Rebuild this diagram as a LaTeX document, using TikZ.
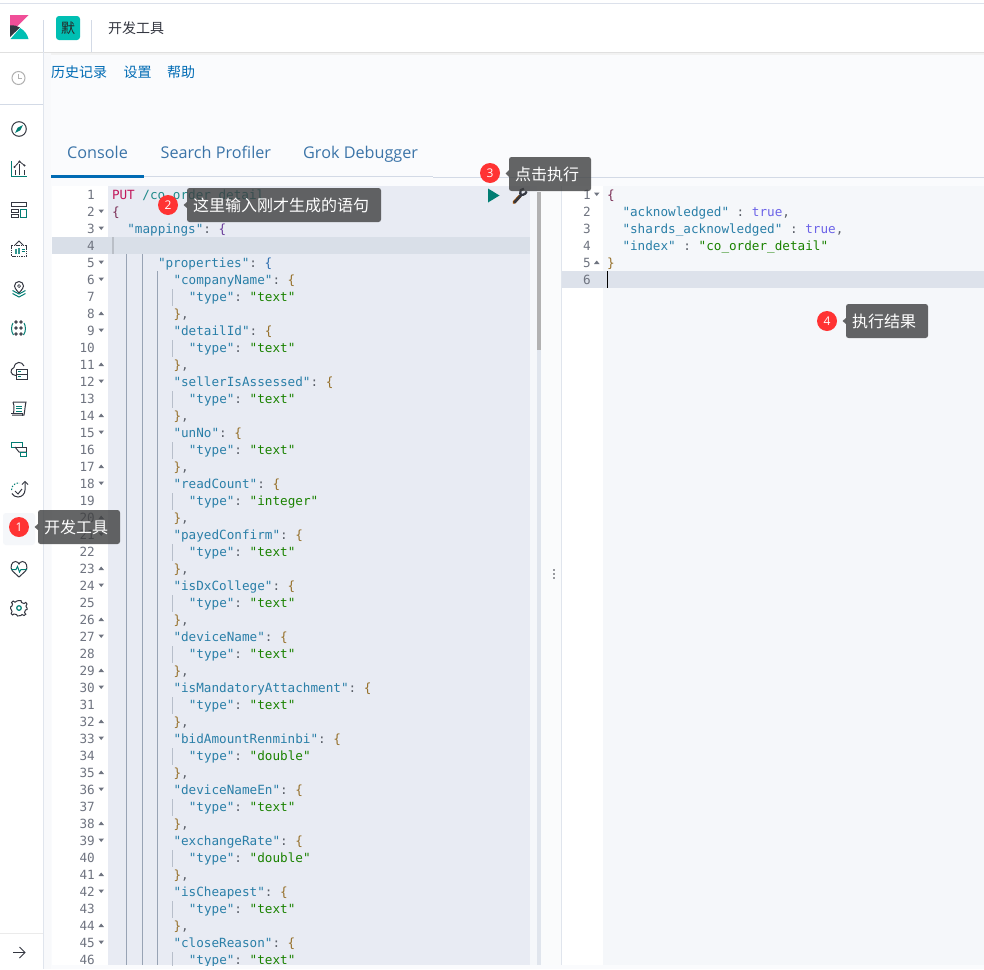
\documentclass[tikz,border=0pt]{standalone}
\usepackage{fontspec}
\setmainfont{Open Sans}
\newfontfamily\cjkfont{Noto Sans CJK SC}
\newfontfamily\codefont{DejaVu Sans Mono}
\frenchspacing
\definecolor{pagebg}{HTML}{FAFBFD}
\definecolor{edbg}{HTML}{E8EBF3}
\definecolor{edhl}{HTML}{D9DFE8}
\definecolor{rightbg}{HTML}{F5F7FA}
\definecolor{righthl}{HTML}{DDE2EB}
\definecolor{bordercol}{HTML}{D3DAE6}
\definecolor{ink}{HTML}{343741}
\definecolor{tealink}{HTML}{017D73}
\definecolor{linkblue}{HTML}{006BB4}
\definecolor{tabblue}{HTML}{3B74A8}
\definecolor{keycol}{HTML}{2A7FA8}
\definecolor{valcol}{HTML}{1A8200}
\definecolor{punct}{HTML}{5A5F68}
\definecolor{bracea}{HTML}{96702A}
\definecolor{braceb}{HTML}{7A2E55}
\definecolor{bracec}{HTML}{6A3D9A}
\definecolor{braced}{HTML}{2F6FB0}
\definecolor{gutnum}{HTML}{6F7480}
\definecolor{guide}{HTML}{98A3B4}
\definecolor{boolcol}{HTML}{6C63E8}
\definecolor{tipbg}{HTML}{3E3F40}
\definecolor{badgered}{HTML}{FF3333}
\definecolor{kpink}{HTML}{F04E98}
\definecolor{kteal}{HTML}{00BFB3}
\definecolor{putcol}{HTML}{C2185B}
\definecolor{pathcol}{HTML}{1F8A8A}
\newcommand{\K}[1]{\textcolor{keycol}{"#1"}}
\newcommand{\V}[1]{\textcolor{valcol}{"#1"}}
\newcommand{\Pn}[1]{\textcolor{punct}{#1}}
\newcommand{\Br}[2]{\textcolor{#1}{#2}}
\tikzset{
  x=1pt,y=-1pt,
  code/.style={font=\codefont\fontsize{12.65}{15}\selectfont,anchor=base west,inner sep=0pt,outer sep=0pt},
  gnum/.style={font=\codefont\fontsize{12.65}{15}\selectfont,anchor=base east,inner sep=0pt,text=gutnum},
  menu/.style={font=\cjkfont\fontsize{14}{16}\selectfont,anchor=base west,inner sep=0pt},
  tabtxt/.style={font=\fontsize{16.2}{18}\selectfont,anchor=base west,inner sep=0pt},
  tipbox/.style={fill=tipbg,rounded corners=2.5pt,fill opacity=.8,draw=none},
  tiptext/.style={font=\cjkfont\fontsize{16}{18}\selectfont,text=white,anchor=base west,inner sep=0pt},
  redbadge/.style={circle,fill=badgered,minimum size=20pt,inner sep=0pt,text=white,font=\fontsize{12}{14}\selectfont},
  ic/.style={draw=ink,line width=1pt,fill=none},
  ict/.style={draw=tealink,line width=1pt,fill=none},
  foldmark/.style={fill=gutnum,draw=none},
}
\begin{document}
\begin{tikzpicture}
\useasboundingbox (0,0) rectangle (984,969);
\fill[white] (0,0) rectangle (984,969);
% page
\fill[pagebg] (44,53) rectangle (984,969);
% top bar
\draw[bordercol!80!white,line width=1pt] (0,3.5) -- (984,3.5);
\fill[black!12] (0,52) rectangle (984,53);
\fill[black!5] (44,53) rectangle (984,55);
\draw[bordercol] (43.5,20) -- (43.5,52);
\draw[bordercol] (91.5,20) -- (91.5,52);
% sidebar
\draw[bordercol!70!white] (43.5,52) -- (43.5,969);
\draw[bordercol] (0,104.5) -- (43,104.5);
\draw[black!8] (0,933) -- (43,933);
\fill[rightbg!70!white] (44,53) rectangle (51,969);
% logo
\fill[kpink] (10,15) -- (28.5,15) -- (10,33.5) -- cycle;
\fill[ink] (10,25.5) .. controls (14,25) and (17,25.8) .. (20,27.5) -- (10,37) -- cycle;
\fill[kteal] (10.5,39) -- (20.2,28) .. controls (24.5,30.5) and (27.5,34.5) .. (28.5,39) -- cycle;
% space badge
\fill[kteal,rounded corners=3pt] (56,16) rectangle (80,40);
\node[font=\cjkfont\fontsize{14}{15}\selectfont,text=black!85,inner sep=0pt] (spacebadge) at (68,28) {默};
\node[font=\cjkfont\fontsize{14}{16}\selectfont,text=ink,anchor=base west,inner sep=0pt] (apptitle) at (108,33) {开发工具};
% sub menu
\node[menu,text=linkblue] (m1) at (51,77) {历史记录};
\node[menu,text=linkblue] (m2) at (123.5,77) {设置};
\node[menu,text=linkblue] (m3) at (167,77) {帮助};
% tabs
\node[tabtxt,text=tabblue] (tab1) at (67,158) {Console};
\node[tabtxt,text=tabblue] (tab2) at (160.5,158) {Search Profiler};
\node[tabtxt,text=tabblue] (tab3) at (303,158) {Grok Debugger};
\draw[bordercol,line width=1.5pt] (144,176.5) -- (433,176.5);
\draw[bordercol,line width=.8pt] (433,177.8) -- (984,177.8);
\fill[linkblue] (51,175) rectangle (144,177.5);
% editor backgrounds
\fill[white] (52,186) rectangle (108,965);
\fill[edbg] (108,186) rectangle (530,965);
\fill[edhl] (108,237) rectangle (530,254);
\fill[bordercol!70!gray] (112,237) rectangle (114,254);
\fill[edhl] (52,237) rectangle (108,254);
% right pane
\fill[rightbg] (530,186) rectangle (537,965);
\fill[rightbg!50!white] (541,186) rectangle (561,965);
\fill[black!30] (537,192) rectangle (541,350);
\fill[bordercol!70!white] (537,350) rectangle (541,965);
\fill[white] (562,186) rectangle (603,965);
\fill[rightbg] (603,186) rectangle (984,965);
\draw[bordercol!70!white] (561.5,186) -- (561.5,965);
\fill[righthl] (562,271) rectangle (984,288);
\fill[black] (606.5,271) rectangle (608,288);
% splitter dots
\foreach \yy in {570,574,578}{\fill[ink] (554,\yy) circle (.9);}
% indent guides
\begin{scope}
\clip (108,186) rectangle (530,965);
\draw[guide,line width=.8pt] (126.5,254) -- (126.5,965);
\draw[guide,line width=.8pt] (142.5,254) -- (142.5,965);
\draw[guide,line width=.8pt] (157.5,271) -- (157.5,965);
\foreach \n in {0,...,13}{
  \draw[guide!70!white,line width=.8pt] (172.5,{289+51*\n}) -- (172.5,{306+51*\n});
}
\end{scope}
% line numbers
\foreach \n in {1,...,46}{
  \node[gnum] (ln\n) at (95,{199.5+17*(\n-1)}) {\n};
}
% fold marks
\foreach \n in {2,3,5,6,9,12,15,18,21,24,27,30,33,36,39,42,45}{
  \fill[foldmark] (98.5,{192.5+17*(\n-1)}) -- (104,{192.5+17*(\n-1)}) -- (101.2,{196+17*(\n-1)}) -- cycle;
}
\foreach \n in {8,11,14,17,20,23,26,29,32,35,38,41,44}{
  \fill[foldmark] (98.5,{196+17*(\n-1)}) -- (104,{196+17*(\n-1)}) -- (101.2,{192.5+17*(\n-1)}) -- cycle;
}
% code
\node[code] (c1) at (112,199.5) {\textcolor{putcol}{PUT} \textcolor{pathcol}{/co\_order\_detail}};
\node[code] (c2) at (112,216.5) {\Br{braceb}{\{}};
\node[code] (c3) at (127.3,233.5) {\K{mappings}\Pn{:} \Br{bracec}{\{}};
\node[code] (c5) at (158,267.5) {\K{properties}\Pn{:} \Br{braced}{\{}};
\foreach \i/\name/\typ in {0/companyName/text,1/detailId/text,2/sellerIsAssessed/text,3/unNo/text,4/readCount/integer,5/payedConfirm/text,6/isDxCollege/text,7/deviceName/text,8/isMandatoryAttachment/text,9/bidAmountRenminbi/double,10/deviceNameEn/text,11/exchangeRate/double,12/isCheapest/text,13/closeReason/text}{
  \node[code] (fk\i) at (173.5,{284.5+51*\i}) {\K{\name}\Pn{:} \Br{bracea}{\{}};
  \begin{scope}
  \clip (108,186) rectangle (530,965);
  \node[code] (ft\i) at (188.8,{301.5+51*\i}) {\K{type}\Pn{:} \V{\typ}};
  \end{scope}
  \ifnum\i<13
    \node[code] (fe\i) at (173.5,{318.5+51*\i}) {\Br{bracea}{\}}\Pn{,}};
  \fi
}
% run and wrench
\fill[tealink] (488,188.5) -- (499.5,195.5) -- (488,202.5) -- cycle;
\draw[orange!60!black,line width=3.2pt,line cap=round] (514,202.5) -- (520,196);
\draw[ink,line width=2.4pt,line cap=round] (514.6,202.3) -- (521,195.3);
\draw[ink,line width=2.2pt] (524,188.6) .. controls (521,188.8) and (519.6,191) .. (520.2,193.6) .. controls (521,195.6) and (525.6,195.2) .. (526.6,191.4);
% right code
\foreach \n in {1,...,6}{
  \node[gnum] (rn\n) at (591,{199.5+17*(\n-1)}) {\n};
}
\fill[foldmark] (594,192.5) -- (599.5,192.5) -- (596.7,196) -- cycle;
\fill[foldmark] (594,264) -- (599.5,264) -- (596.7,260.5) -- cycle;
\node[code] (r1) at (607,199.5) {\Br{braceb}{\{}};
\node[code] (r2) at (622.5,216.5) {\K{acknowledged} \Pn{:} \textcolor{boolcol}{true}\Pn{,}};
\node[code] (r3) at (622.5,233.5) {\K{shards\_acknowledged} \Pn{:} \textcolor{boolcol}{true}\Pn{,}};
\node[code] (r4) at (622.5,250.5) {\K{index} \Pn{:} \V{co\_order\_detail}};
\node[code] (r5) at (607,267.5) {\Br{bracea}{\}}};
% sidebar icons
\draw[black!30,line width=1pt] (18.5,78) circle (6.5);
\draw[black!30,line width=.8pt] (18.5,74) -- (18.5,78.3) -- (22,78.3);
% compass
\draw[ic] (19,129) circle (7.3);
\fill[tealink] (23,125) -- (20.3,130.3) -- (15,133) -- (17.7,127.7) -- cycle;
% chart
\draw[ict] (11.5,161) -- (11.5,176.5) -- (27,176.5);
\draw[ic,line width=.8pt] (15,175) -- (15,170) (19.5,175) -- (19.5,164) (24,175) -- (24,170);
\draw[ic,line width=.8pt] (14.5,167) -- (19.5,161.5) -- (24.5,165.5);
\fill[ink] (14.5,167) circle (1.1) (19.5,161.5) circle (1.1) (24.5,165.5) circle (1.1);
% dashboard
\draw[ic] (11.5,202) rectangle (26.5,206.5);
\draw[ic] (11.5,209.5) rectangle (18,212.5);
\draw[ic] (11.5,214.5) rectangle (18,217);
\draw[ict] (20,209.5) rectangle (26.5,217);
% canvas
\draw[ic,dash pattern=on 1.5pt off .8pt] (11.5,245) rectangle (26.5,256);
\draw[ic,line width=.8pt] (15,245) -- (19,241) -- (23,245);
\fill[tealink!80!white] (14.5,249) rectangle (16.5,254);
\fill[tealink!80!white] (18,247.5) rectangle (20,254);
\draw[tealink,line width=1pt] (21.5,249) -- (25,249) (21.5,251.5) -- (25,251.5);
% maps
\draw[ic] (19,293) .. controls (15.5,289) and (14.5,287.5) .. (14.5,286) arc (180:360:4.5) .. controls (23.5,287.5) and (22.5,289) .. (19,293) -- cycle;
\draw[ic,line width=.7pt] (19,286) circle (1.5);
\draw[ict] (12.5,290.5) -- (19,294) -- (25.5,290.5);
\draw[ict] (12.5,293.5) -- (19,297) -- (25.5,293.5);
% ml dots
\foreach \xx/\yy in {16/322,21/322,16/328,21/328,16/334,21/334}{
  \draw[ink,line width=.8pt] (\xx,\yy) circle (1.2);
}
\draw[ict] (13,323) .. controls (11,326) and (11,332) .. (13.5,335);
\draw[ict] (24,323) .. controls (26,326) and (26,332) .. (23.5,335);
% infrastructure
\draw[ic] (16,375.5) .. controls (10,375.5) and (9.5,369) .. (14,367.5) .. controls (15,361) and (22,361) .. (24,366);
\draw[ic] (16,369) rectangle (27,379);
\draw[ic] (16,374) -- (27,374);
\draw[tealink,line width=.9pt] (18,371.5) -- (21,371.5) (18,376.5) -- (21,376.5);
% logs
\draw[ic] (13,402) -- (26,402) .. controls (25,406) and (25,410) .. (24,415) -- (12,415);
\draw[ic] (13,402) .. controls (14.5,406) and (14,410) .. (13.5,413);
\draw[ic] (11,413) -- (22,413) -- (22,416);
\draw[tealink,line width=.9pt] (16,406) -- (22,406) (16,408.5) -- (22,408.5) (16,411) -- (22,411);
% apm
\draw[ict] (11.5,442) rectangle (22,447.5);
\draw[ic] (15,447) -- (26.5,447) -- (26.5,453);
\draw[ic] (15,447) -- (19,452) -- (26,452);
\draw[ict] (20.5,452) rectangle (26.5,456.5);
% uptime
\draw[ic] (25,482) -- (25,490) arc (0:150:7);
\draw[ic] (22,484.5) -- (25,481.5) -- (28,484.5);
\draw[ict,dash pattern=on 1.5pt off 1.5pt] (11.5,490) arc (180:280:7);
\draw[ic] (15,491) -- (18,494) -- (22,489);
% selected item
\fill[rightbg,rounded corners=3pt] (3,513) rectangle (35,545);
% heart
\draw[ic] (19,577) -- (12.5,571) .. controls (9.5,567.5) and (11.5,561.5) .. (15.5,561.5) .. controls (17.5,561.5) and (18.5,563) .. (19,564) .. controls (19.5,563) and (20.5,561.5) .. (22.5,561.5) .. controls (26.5,561.5) and (28.5,567.5) .. (25.5,571) -- cycle;
\draw[tealink,line width=1pt] (11,569.5) -- (16,569.5) -- (17.5,566.5) -- (19.5,572) -- (21,569.5) -- (27,569.5);
% gear
\draw[ic] (19,600.5) -- (21,600.5) -- (21.5,602.5) -- (24,603.5) -- (25.8,602.4) -- (27,604) -- (26,606) -- (26.4,607.2) -- (27,608) -- (27,609.5) -- (25.5,610) -- (24.5,612.5) -- (25.8,614.2) -- (24,615.5) -- (22,614.5) -- (20.8,615.5) -- (17.5,616) -- (16.5,614.5) -- (14,614) -- (12.5,615) -- (11.2,613.5) -- (12,611.5) -- (11.2,609.5) -- (10.5,608.5) -- (10.5,607) -- (12,606) -- (12.5,604) -- (11.5,602.5) -- (13.2,601) -- (15,602.2) -- (17,601) -- cycle;
\draw[ict,line width=1.2pt] (19,608) circle (2.3);
% collapse arrow
\draw[ic] (13,952.5) -- (24.5,952.5);
\draw[ic] (19.5,947) -- (25,952.5) -- (19.5,958);
% tooltips
\fill[tipbg,fill opacity=.8] (38,524) -- (34.5,527) -- (38,530) -- cycle;
\fill[tipbg,fill opacity=.8] (187,202) -- (183.5,205) -- (187,208) -- cycle;
\fill[tipbg,fill opacity=.8] (509,170) -- (505.5,173.5) -- (509,177) -- cycle;
\fill[tipbg,fill opacity=.8] (846,318) -- (842.5,321) -- (846,324) -- cycle;
\fill[tipbox] (38,510) rectangle (120,544);
\fill[tipbox] (187,188) rectangle (381,222);
\fill[tipbox] (509,157) rectangle (591,191);
\fill[tipbox] (846,304) rectangle (928,338);
\node[tiptext] (t1) at (44,533) {开发工具};
\node[tiptext] (t2) at (193,211) {这里输入刚才生成的语句};
\node[tiptext] (t3) at (515,180) {点击执行};
\node[tiptext] (t4) at (852,327) {执行结果};
\node[redbadge] (b1) at (19,527) {1};
\node[redbadge] (b2) at (168,205) {2};
\node[redbadge] (b3) at (490,173) {3};
\node[redbadge] (b4) at (827,321) {4};
\end{tikzpicture}
\end{document}
